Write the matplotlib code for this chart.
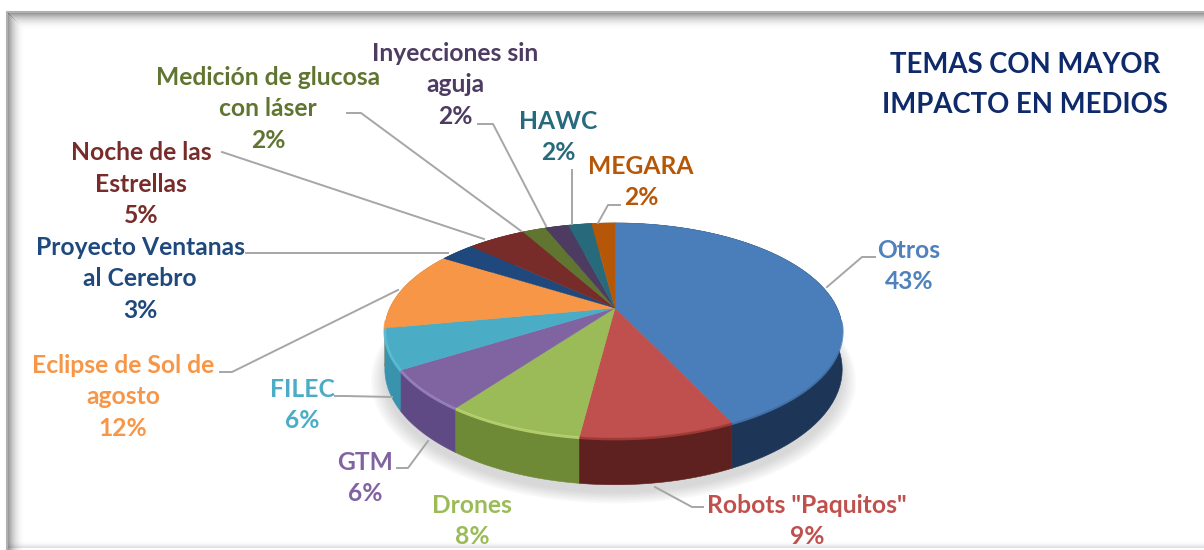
import numpy as np
import matplotlib
matplotlib.use("Agg")
import matplotlib.pyplot as plt

# ---- data ----
names = ["Otros", 'Robots "Paquitos"', "Drones", "GTM", "FILEC",
         "Eclipse de Sol de\nagosto", "Proyecto Ventanas\nal Cerebro",
         "Noche de las\nEstrellas", "Medición de glucosa\ncon láser",
         "Inyecciones sin\naguja", "HAWC", "MEGARA"]
values = [43, 9, 8, 6, 6, 12, 3, 5, 2, 2, 2, 2]
title_text = "TEMAS CON MAYOR\nIMPACTO EN MEDIOS"

# ---- style ----
top_colors = ["#4a7ebb", "#c0504d", "#9bbb59", "#8064a2", "#4bacc6", "#f79646",
              "#1f497d", "#772c2a", "#5f7530", "#4d3b62", "#276a7c", "#b65708"]
wall_colors = ["#1d3557", "#5e2120", "#6f8a36", "#5f4a85", "#3a93ad", "#c47a36",
               "#163659", "#55201f", "#465723", "#382b47", "#1c4d5a", "#844006"]
rim_colors = ["#4a7ebb", "#b0403d", "#c4dc78", "#a088c8", "#60c0da", "#f79646",
              "#1f497d", "#772c2a", "#5f7530", "#4d3b62", "#276a7c", "#b65708"]
text_colors = ["#4f81bd", "#c0504d", "#9bbb59", "#8064a2", "#4bacc6", "#f79646",
               "#1f497d", "#772c2a", "#5f7530", "#4d3b62", "#276a7c", "#b65708"]
label_xy = [(909, 266), (807, 521), (472, 521), (365, 478), (302, 405), (123, 397),
            (140, 279), (141, 184), (268, 109), (455, 85), (558, 137), (641, 182)]
leaders = [[(827, 287), (862, 257), (875, 257)],
           [(655, 487), (692, 507), (703, 507)],
           None,
           [(428, 441), (408, 468), (397, 468)],
           [(392, 397), (345, 396), (335, 396)],
           [(398, 290), (232, 372), (220, 372)],
           [(448, 253), (258, 253), (246, 253)],
           [(484, 239), (222, 152)],
           [(521, 231), (361, 113), (347, 113)],
           [(546, 226), (493, 124), (478, 124)],
           [(572, 224), (572, 170)],
           [(598, 223), (608, 205), (620, 205)]]
FONT = "Lato"
FS = 17.7

# perspective disc
CX, CY, RX, RY, K, DEPTH = 615, 308, 224.6, 102.8, 0.209, 37


def project(theta_deg):
    th = np.radians(theta_deg)
    u, v = np.sin(th), -np.cos(th)
    den = 1 - K * v
    return CX - 1.5 * np.abs(u) - 1.0 * u + RX * u / den, CY + RY * v / den, DEPTH / den


fig = plt.figure(figsize=(12.04, 5.5), dpi=100, facecolor="white")
ax = fig.add_axes([0, 0, 1, 1])
ax.set_xlim(0, 1204)
ax.set_ylim(550, 0)
ax.axis("off")

# frame with soft inner shadow
fx, fy = 7, 12
for i in range(18):
    a = 0.55 * (1 - i / 18) ** 2.2
    ax.fill([fx + i, fx + i + 1, fx + i + 1, fx + i], [fy + i, fy + i, 550, 550],
            color="#303030", alpha=a, lw=0, zorder=1)
    ax.fill([fx + i, 1204, 1204, fx + i], [fy + i, fy + i, fy + i + 1, fy + i + 1],
            color="#303030", alpha=a, lw=0, zorder=1)
for i in range(8):
    a = 0.2 * (i / 8) ** 2
    ax.fill([fx, 1204, 1204, fx], [540 + i, 540 + i, 541 + i, 541 + i],
            color="#303030", alpha=a, lw=0, zorder=1)
ax.plot([fx, fx, 1204], [550, fy, fy], color="#b0b0b0", lw=1.5, zorder=1.5)

# soft shadow under the pie
ang = np.linspace(0, 360, 361)
sx, sy, sd = project(ang)
for s in np.linspace(1.06, 1.0, 8):
    ax.fill(CX + (sx - CX) * s, CY + 8 + (sy + sd - CY) * s, color="#707070",
            alpha=0.035, lw=0, zorder=2)

# walls (back to front) then top faces, angles taken from the values
edges = np.concatenate([[0], np.cumsum(values)]) / np.sum(values) * 360
mids = (edges[:-1] + edges[1:]) / 2
for i in np.argsort(-np.abs(mids - 180)):
    t = np.linspace(edges[i], edges[i + 1], 60)
    x, y, d = project(t)
    ax.fill(np.r_[x, x[::-1]], np.r_[y, (y + d)[::-1]], color=wall_colors[i],
            lw=0.4, zorder=3)
for i in range(len(values)):
    t = np.linspace(edges[i], edges[i + 1], 60)
    x, y, d = project(t)
    ax.fill(np.r_[CX, x], np.r_[CY, y], color=top_colors[i], lw=0.3, zorder=4)
    mask = np.cos(np.radians(t)) < -0.1
    if mask.any():
        ax.plot(x[mask], y[mask] + 1, color=rim_colors[i], lw=2, alpha=0.8, zorder=5,
                solid_capstyle="butt")

# leaders
for pts in leaders:
    if pts:
        p = np.array(pts)
        ax.plot(p[:, 0], p[:, 1], color="#a6a6a6", lw=1.4, zorder=6)

# labels
for n, v, c, (lx, ly) in zip(names, values, text_colors, label_xy):
    ax.text(lx, ly, f"{n}\n{v}%", ha="center", va="center", color=c, family=FONT,
            fontweight="bold", fontsize=FS, linespacing=1.45, zorder=7)

ax.text(1025, 85, title_text, ha="center", va="center", color="#0f2a6b", family=FONT,
        fontweight="bold", fontsize=19.8, linespacing=1.68, zorder=7)

fig.savefig("out.png", dpi=100, facecolor="white")
